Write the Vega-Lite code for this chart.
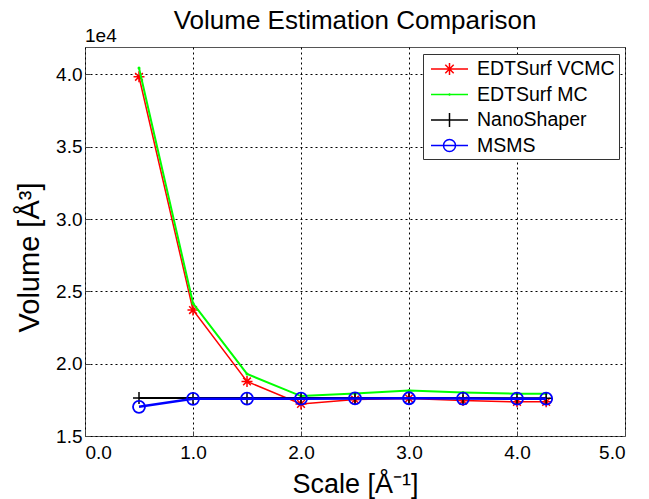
{
  "$schema": "https://vega.github.io/schema/vega-lite/v6.json",
  "width": 540,
  "height": 389,
  "autosize": {"type": "none"},
  "padding": {"left": 85, "top": 47, "right": 24, "bottom": 63},
  "background": "white",
  "config": {
    "font": "Liberation Sans",
    "view": {"stroke": "#555555", "strokeWidth": 1}
  },
  "title": {
    "text": "Volume Estimation Comparison",
    "fontSize": 26,
    "fontWeight": "normal",
    "font": "Liberation Sans",
    "color": "black",
    "offset": 12,
    "dy": 19,
    "anchor": "middle"
  },
  "datasets": {
    "volumes": [
      {"series": "EDTSurf VCMC", "scale": 0.5, "volume": 39840},
      {"series": "EDTSurf VCMC", "scale": 1.0, "volume": 23710},
      {"series": "EDTSurf VCMC", "scale": 1.5, "volume": 18770},
      {"series": "EDTSurf VCMC", "scale": 2.0, "volume": 17220},
      {"series": "EDTSurf VCMC", "scale": 2.5, "volume": 17520},
      {"series": "EDTSurf VCMC", "scale": 3.0, "volume": 17600},
      {"series": "EDTSurf VCMC", "scale": 3.5, "volume": 17450},
      {"series": "EDTSurf VCMC", "scale": 4.0, "volume": 17360},
      {"series": "EDTSurf VCMC", "scale": 4.27, "volume": 17360},
      {"series": "EDTSurf MC", "scale": 0.5, "volume": 40450},
      {"series": "EDTSurf MC", "scale": 1.0, "volume": 24180},
      {"series": "EDTSurf MC", "scale": 1.5, "volume": 19290},
      {"series": "EDTSurf MC", "scale": 2.0, "volume": 17760},
      {"series": "EDTSurf MC", "scale": 2.5, "volume": 17940},
      {"series": "EDTSurf MC", "scale": 3.0, "volume": 18150},
      {"series": "EDTSurf MC", "scale": 3.5, "volume": 18000},
      {"series": "EDTSurf MC", "scale": 4.0, "volume": 17920},
      {"series": "EDTSurf MC", "scale": 4.27, "volume": 17920},
      {"series": "NanoShaper", "scale": 0.5, "volume": 17630},
      {"series": "NanoShaper", "scale": 1.0, "volume": 17620},
      {"series": "NanoShaper", "scale": 1.5, "volume": 17620},
      {"series": "NanoShaper", "scale": 2.0, "volume": 17620},
      {"series": "NanoShaper", "scale": 2.5, "volume": 17620},
      {"series": "NanoShaper", "scale": 3.0, "volume": 17630},
      {"series": "NanoShaper", "scale": 3.5, "volume": 17620},
      {"series": "NanoShaper", "scale": 4.0, "volume": 17610},
      {"series": "NanoShaper", "scale": 4.27, "volume": 17610},
      {"series": "MSMS", "scale": 0.5, "volume": 17020},
      {"series": "MSMS", "scale": 1.0, "volume": 17570},
      {"series": "MSMS", "scale": 1.5, "volume": 17580},
      {"series": "MSMS", "scale": 2.0, "volume": 17580},
      {"series": "MSMS", "scale": 2.5, "volume": 17600},
      {"series": "MSMS", "scale": 3.0, "volume": 17610},
      {"series": "MSMS", "scale": 3.5, "volume": 17590},
      {"series": "MSMS", "scale": 4.0, "volume": 17580},
      {"series": "MSMS", "scale": 4.27, "volume": 17580}
    ],
    "exponent": [
      {"label": "1e4", "scale": 0, "volume": 41900}
    ]
  },
  "data": {"name": "volumes"},
  "encoding": {
    "x": {
      "field": "scale",
      "type": "quantitative",
      "scale": {"domain": [0, 5], "nice": false, "zero": false},
      "axis": {
        "title": "Scale [Å⁻¹]",
        "values": [0, 1, 2, 3, 4, 5],
        "format": ".1f",
        "labelFontSize": 19,
        "labelColor": "black",
        "labelPadding": 12,
        "titleFontSize": 27,
        "titleFontWeight": "normal",
        "titleColor": "black",
        "titlePadding": 9,
        "domain": false,
        "ticks": true,
        "tickSize": -5,
        "tickColor": "#444444",
        "grid": true,
        "gridColor": "black",
        "gridDash": [2, 3],
        "gridOpacity": 1,
        "gridWidth": 1
      }
    },
    "y": {
      "field": "volume",
      "type": "quantitative",
      "scale": {"domain": [15000, 41900], "nice": false, "zero": false},
      "axis": {
        "title": "Volume [Å³]",
        "values": [15000, 20000, 25000, 30000, 35000, 40000],
        "labelExpr": "format(datum.value / 10000, '.1f')",
        "labelFontSize": 19,
        "labelColor": "black",
        "labelPadding": 8,
        "titleFontSize": 29,
        "titleFontWeight": "normal",
        "titleColor": "black",
        "titlePadding": 11,
        "titleY": 210,
        "domain": false,
        "ticks": true,
        "tickSize": -5,
        "tickColor": "#444444",
        "grid": true,
        "gridColor": "black",
        "gridDash": [2, 3],
        "gridOpacity": 1,
        "gridWidth": 1
      }
    }
  },
  "layer": [
    {
      "transform": [{"filter": "datum.series === 'EDTSurf VCMC'"}],
      "mark": {
        "type": "line",
        "color": "#ff0000",
        "strokeWidth": 1.5,
        "point": {
          "shape": "M-1,0H1M0,-1V1M-0.7,-0.7L0.7,0.7M-0.7,0.7L0.7,-0.7",
          "size": 121,
          "filled": false,
          "color": "#ff0000",
          "stroke": "#ff0000",
          "strokeWidth": 1.5
        }
      }
    },
    {
      "transform": [{"filter": "datum.series === 'EDTSurf MC'"}],
      "mark": {
        "type": "line",
        "color": "#00ff00",
        "strokeWidth": 2,
        "point": {
          "shape": "circle",
          "size": 9,
          "filled": true,
          "color": "#00ff00",
          "fill": "#00ff00"
        }
      }
    },
    {
      "transform": [{"filter": "datum.series === 'NanoShaper'"}],
      "mark": {
        "type": "line",
        "color": "#000000",
        "strokeWidth": 2,
        "point": {
          "shape": "M-1,0H1M0,-1V1",
          "size": 144,
          "filled": false,
          "color": "#000000",
          "stroke": "#000000",
          "strokeWidth": 1.5
        }
      }
    },
    {
      "transform": [{"filter": "datum.series === 'MSMS'"}],
      "mark": {
        "type": "line",
        "color": "#0000ff",
        "strokeWidth": 2.5,
        "point": {
          "shape": "circle",
          "size": 144,
          "filled": false,
          "color": "#0000ff",
          "stroke": "#0000ff",
          "strokeWidth": 1.8
        }
      }
    },
    {
      "mark": {"type": "point", "filled": false, "opacity": 0, "size": 1, "strokeWidth": 1.5},
      "encoding": {
        "color": {
          "field": "series",
          "type": "nominal",
          "scale": {
            "domain": ["EDTSurf VCMC", "EDTSurf MC", "NanoShaper", "MSMS"],
            "range": ["#ff0000", "#00ff00", "#000000", "#0000ff"]
          },
          "legend": {
            "title": null,
            "orient": "none",
            "legendX": 338,
            "legendY": 7,
            "symbolSize": 400,
            "symbolOpacity": 1,
            "symbolStrokeWidth": 1.5,
            "labelFontSize": 19.5,
            "labelColor": "black",
            "labelOffset": 28,
            "labelLimit": 300,
            "padding": 4,
            "rowPadding": 4.5,
            "strokeColor": "#333333",
            "fillColor": "white"
          }
        },
        "shape": {
          "field": "series",
          "type": "nominal",
          "scale": {
            "domain": ["EDTSurf VCMC", "EDTSurf MC", "NanoShaper", "MSMS"],
            "range": [
              "M-0.7,0H3M0.55,0H1.75M1.15,-0.6V0.6M0.73,-0.42L1.57,0.42M0.73,0.42L1.57,-0.42",
              "M-0.7,0H3M1.03,0H1.27M1.15,-0.12V0.12",
              "M-0.7,0H3M1.15,-0.7V0.7",
              "M-0.7,0H3M1.75,0A0.6,0.6,0,1,1,0.55,0A0.6,0.6,0,1,1,1.75,0"
            ]
          }
        }
      }
    },
    {
      "data": {"name": "exponent"},
      "mark": {"type": "text", "align": "left", "baseline": "alphabetic", "fontSize": 19, "dy": -5, "color": "black"},
      "encoding": {
        "text": {"field": "label", "type": "nominal"}
      }
    }
  ]
}
